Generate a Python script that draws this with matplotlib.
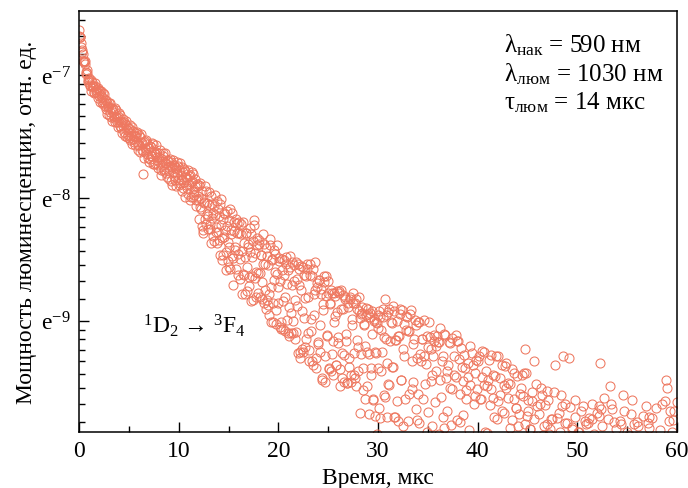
import numpy as np
import matplotlib
matplotlib.use('Agg')
import matplotlib.pyplot as plt
from matplotlib.ticker import FixedLocator, FixedFormatter

plt.rcParams['font.family'] = ['Liberation Serif', 'DejaVu Serif']
plt.rcParams['mathtext.fontset'] = 'custom'
plt.rcParams['mathtext.rm'] = 'Liberation Serif'
plt.rcParams['mathtext.it'] = 'Liberation Serif:italic'
plt.rcParams['mathtext.bf'] = 'Liberation Serif:bold'

# sampling step of the decay, us
t_step = 0.1
# luminescence power in units of e^-10, one row per us
# samples at t = 0.0, 0.1, ...
p_rel = [
    29.2, 27.5, 26.1, 24.3, 24.0, 22.4, 22.6, 20.7, 21.0, 19.4,   # 0
    19.3, 18.4, 19.4, 18.4, 18.5, 17.4, 18.5, 17.9, 17.4, 18.2,   # 1
    17.0, 17.7, 17.1, 16.2, 17.4, 16.2, 16.5, 15.3, 16.0, 15.5,   # 2
    16.0, 14.9, 14.3, 15.4, 14.9, 14.2, 15.4, 14.3, 13.8, 14.4,   # 3
    13.7, 14.5, 13.1, 13.8, 13.3, 13.8, 12.3, 13.4, 12.9, 12.4,   # 4
    13.1, 11.9, 12.6, 13.2, 12.0, 11.7, 12.3, 12.6, 11.7, 10.9,   # 5
    11.4, 12.2, 11.7, 10.9, 9.0, 11.7, 11.1, 11.9, 10.6, 11.1,    # 6
    11.1, 10.2, 11.25, 10.4, 11.5, 9.75, 10.6, 10.8, 10.1, 9.7,   # 7
    10.7, 9.85, 9.3, 10.2, 10.65, 9.4, 9.85, 9.1, 10.1, 9.55,     # 8
    9.2, 10.15, 8.5, 9.5, 9.15, 9.7, 8.55, 9.4, 9.9, 8.55,        # 9
    9.3, 8.35, 8.9, 9.55, 8.0, 8.45, 9.2, 8.25, 8.7, 7.65,        # 10
    8.3, 8.9, 7.45, 8.5, 9.0, 7.6, 8.15, 7.3, 8.3, 7.5,           # 11
    8.2, 6.85, 7.4, 5.9, 5.7, 7.1, 6.25, 7.85, 6.5, 5.75,         # 12
    6.99, 5.75, 7.51, 6.27, 5.42, 6.92, 6.46, 5.61, 7.24, 5.61,   # 13
    5.25, 7.02, 5.93, 4.45, 6.22, 5.39, 6.51, 4.77, 5.89, 4.41,   # 14
    6.18, 4.97, 4.14, 5.53, 6.52, 4.53, 5.65, 4.96, 4.13, 6.04,   # 15
    4.69, 5.56, 3.83, 6.0, 4.79, 3.98, 5.11, 3.38, 5.55, 4.21,    # 16
    5.07, 3.61, 4.75, 5.5, 3.91, 3.23, 6.2, 4.73, 4.05, 5.06,     # 17
    3.42, 5.08, 4.02, 4.64, 3.25, 4.33, 5.09, 3.5, 3.0, 4.62,     # 18
    4.29, 2.84, 5.03, 3.58, 4.47, 3.15, 3.78, 4.67, 2.65, 3.98,   # 19
    3.13, 4.42, 3.75, 2.7, 4.5, 2.54, 3.95, 3.29, 4.57, 2.74,     # 20
    4.1, 3.04, 4.59, 2.45, 3.65, 2.72, 4.27, 3.21, 2.48, 3.83,    # 21
    2.08, 3.63, 2.0, 4.25, 2.93, 2.1, 3.94, 3.28, 2.35, 4.15,     # 22
    3.31, 1.95, 3.94, 2.49, 1.96, 4.16, 2.84, 3.48, 1.85, 3.71,   # 23
    2.25, 3.8, 2.62, 3.38, 1.68, 2.97, 3.74, 2.04, 3.9, 2.4,      # 24
    3.4, 1.83, 3.12, 1.8, 3.4, 2.31, 2.69, 3.33, 1.9, 2.92,       # 25
    2.37, 3.45, 1.83, 2.99, 1.7, 3.36, 2.05, 3.25, 2.43, 1.64,    # 26
    3.04, 1.86, 3.3, 1.75, 2.62, 3.15, 2.09, 1.7, 3.24, 2.32,     # 27
    1.8, 2.95, 2.78, 2.07, 3.05, 1.55, 2.63, 2.22, 3.01, 1.59,    # 28
    2.88, 2.07, 2.9, 1.74, 2.43, 1.42, 2.75, 1.25, 2.08, 2.67,    # 29
    1.85, 2.94, 1.23, 2.51, 2.1, 2.79, 1.48, 3.24, 2.35, 1.24,    # 30
    2.92, 1.61, 2.3, 0.88, 2.67, 1.86, 2.95, 1.24, 2.32, 1.41,    # 31
    1.2, 2.39, 2.98, 1.67, 0.86, 2.15, 2.64, 1.43, 2.82, 0.61,    # 32
    2.5, 1.49, 2.88, 0.97, 1.96, 1.65, 2.34, 0.63, 2.62, 1.21,    # 33
    1.49, 2.68, 0.77, 1.96, 2.35, 1.04, 2.03, 1.62, 0.61, 2.4,    # 34
    2.19, 0.88, 2.37, 1.66, 1.15, 2.04, 2.3, 0.72, 1.81, 2.4,     # 35
    0.99, 2.28, 1.67, 0.56, 1.95, 1.24, 2.43, 0.82, 1.71, 1.3,    # 36
    1.89, 0.58, 2.27, 1.16, 1.56, 0.35, 2.04, 0.93, 1.72, 2.31,   # 37
    2.3, 0.99, 1.49, 0.58, 1.87, 1.26, 2.06, 0.35, 1.54, 0.83,    # 38
    1.92, 1.11, 1.61, 0.4, 2.09, 0.69, 1.38, 1.77, 0.27, 1.56,    # 39
    0.95, 2.04, 0.44, 1.43, 1.72, 0.72, 2.11, 1.1, 0.5, 1.59,     # 40
    1.68, 0.57, 1.37, 2.06, 0.25, 1.45, 0.94, 1.73, 0.73, 1.22,   # 41
    2.03, 0.52, 1.48, 0.8, 1.3, 0.39, 1.61, 1.88, 1.92, 0.66,     # 42
    1.45, 0.33, 1.62, 0.9, 1.21, 0.48, 1.78, 0.7, 1.33, 0.2,      # 43
    1.15, 0.42, 1.5, 0.1, 1.75, 0.8, 1.77, 2.16, 0.55, 1.25,      # 44
    0.6, 1.3, 0.15, 1.12, 0.5, 1.41, 0.9, 1.95, 0.3, 1.05,        # 45
    1.35, 0.4, 0.85, 1.38, 0.2, 1.48, 0.7, 1.15, 0.05, 0.95,      # 46
    1.53, 0.55, 1.08, 0.3, 1.22, 0.6, 0.1, 0.9, 1.89, 0.45,       # 47
    1.23, 0.35, 0.8, 1.1, 0.2, 1.35, 2.03, 0.6, 1.18, 0.4,        # 48
    0.65, 0.15, 2.01, 0.9, 0.5, 1.12, 0.25, 0.7, 1.42, 0.3,       # 49
    0.8, 1.1, 0.2, 0.55, 0.9, 0.1, 1.36, 0.45, 0.75, 1.17,        # 50
    0.35, 0.6, 1.23, 0.05, 0.9, 1.22, 0.5, 0.15, 0.7, 0.3,        # 51
    0.6, 0.2, 1.35, 1.93, 1.32, 0.4, 0.85, 0.1, 0.5, 0.95,        # 52
    0.3, 0.75, 0.55, 1.59, 1.38, 0.1, 0.85, 1.19, 0.4, 0.65,      # 53
    0.2, 0.7, 0.45, 0.9, 1.17, 0.05, 1.48, 0.35, 0.8, 0.6,        # 54
    0.5, 0.15, 0.95, 0.7, 0.3, 1.42, 0.85, 0.1, 0.6, 1.05,        # 55
    1.19, 0.4, 0.75, 0.2, 0.9, 0.55, 0.1, 0.65, 0.3, 1.36,        # 56
    0.45, 1.18, 1.24, 0.6, 0.15, 0.85, 0.35, 0.7, 0.25, 0.95,     # 57
    0.6, 0.3, 0.8, 0.1, 0.55, 1.38, 0.7, 0.4, 0.95, 1.67,         # 58
    1.57, 0.35, 0.75, 1.3, 0.2, 0.6, 1.21, 0.45, 0.85, 0.15,      # 59
]
# samples in between, at t = 0.05, 0.15, ...
p_rel_mid = [
    27.8, 27.5, 25.3, 24.8, 22.6, 22.6, 22.0, 20.4, 20.5, 19.0,   # 0
    19.7, 18.6, 17.7, 19.0, 18.4, 17.5, 18.9, 17.5, 18.0, 16.7,   # 1
    17.8, 16.2, 17.7, 16.9, 15.9, 17.3, 15.7, 16.5, 14.7, 15.6,   # 2
    14.6, 16.1, 15.3, 13.9, 15.3, 14.4, 13.8, 15.1, 14.3, 13.2,   # 3
    14.75, 13.3, 13.8, 12.6, 14.05, 12.65, 13.5, 13.9, 12.2, 13.05,  # 4
    12.05, 13.45, 12.25, 11.45, 12.75, 12.25, 11.35, 12.25, 12.65, 11.35,  # 5
    12.35, 10.75, 12.5, 11.6, 10.85, 10.25, 11.8, 10.8, 11.45, 10.25,  # 6
    9.95, 11.3, 10.4, 11.55, 9.75, 10.8, 9.85, 11.35, 10.35, 9.45,  # 7
    10.35, 10.9, 8.95, 9.7, 10.45, 9.2, 10.7, 9.85, 8.8, 10.0,    # 8
    8.65, 9.6, 9.95, 8.2, 10.1, 8.85, 9.5, 8.15, 9.1, 9.6,        # 9
    8.25, 9.8, 8.55, 7.8, 9.15, 9.4, 7.45, 8.8, 8.05, 9.3,        # 10
    8.85, 7.3, 8.4, 9.15, 7.45, 7.8, 8.6, 6.95, 8.15, 7.25,       # 11
    6.23, 8.37, 6.74, 7.84, 5.56, 7.18, 8.15, 6.0, 7.1, 6.38,     # 12
    7.74, 5.98, 5.13, 7.02, 6.56, 5.19, 7.6, 5.84, 5.12, 6.75,    # 13
    6.4, 4.66, 7.34, 5.34, 4.64, 6.54, 5.71, 4.1, 6.65, 5.17,     # 14
    4.21, 6.77, 5.68, 4.6, 3.64, 6.07, 4.85, 6.24, 5.54, 3.94,    # 15
    6.1, 4.5, 5.5, 3.38, 6.07, 3.96, 4.57, 5.57, 3.45, 4.97,      # 16
    3.89, 5.81, 3.18, 4.58, 5.2, 5.95, 3.84, 3.29, 5.34, 4.01,    # 17
    5.23, 3.3, 4.66, 3.72, 5.52, 3.15, 4.3, 4.92, 3.21, 3.1,      # 18
    3.37, 5.3, 2.68, 4.48, 2.7, 4.83, 4.03, 2.97, 5.03, 3.58,     # 19
    4.55, 2.59, 2.55, 4.12, 3.2, 4.45, 2.5, 4.32, 3.66, 2.45,     # 20
    2.4, 4.21, 2.89, 4.4, 2.45, 3.76, 2.35, 4.38, 3.06, 4.3,      # 21
    4.16, 2.1, 3.48, 2.16, 4.2, 2.78, 2.2, 3.92, 4.3, 2.46,       # 22
    2.14, 4.33, 2.76, 3.92, 1.9, 3.37, 4.4, 2.0, 3.59, 2.28,      # 23
    3.8, 2.11, 3.52, 1.7, 3.11, 3.9, 1.65, 3.33, 2.41, 3.75,      # 24
    1.85, 3.13, 3.5, 2.07, 1.75, 3.4, 2.82, 1.9, 3.45, 2.27,      # 25
    3.41, 1.6, 3.5, 2.08, 2.98, 1.65, 3.3, 2.3, 1.64, 3.15,       # 26
    2.0, 3.25, 1.65, 2.76, 3.4, 1.75, 3.13, 1.6, 3.0, 2.19,       # 27
    3.3, 1.28, 2.87, 2.9, 1.85, 2.64, 1.43, 2.85, 2.1, 3.0,       # 28
    1.27, 2.8, 1.85, 2.95, 1.43, 2.71, 2.1, 2.7, 1.08, 2.56,      # 29
    2.85, 1.33, 2.8, 1.81, 1.0, 2.98, 2.37, 1.46, 2.85, 1.93,     # 30
    1.62, 3.0, 0.89, 2.68, 1.87, 3.06, 1.24, 2.33, 1.02, 2.71,    # 31
    2.4, 0.89, 2.88, 1.67, 2.96, 1.15, 2.04, 0.73, 2.52, 2.81,    # 32
    1.2, 2.49, 0.88, 2.97, 1.56, 2.25, 0.64, 2.73, 1.32, 2.01,    # 33
    2.69, 1.18, 2.07, 0.76, 2.35, 1.44, 2.73, 0.82, 1.91, 1.1,    # 34
    1.29, 2.68, 0.87, 2.16, 1.75, 0.53, 2.41, 1.4, 2.21, 0.7,     # 35
    2.29, 1.08, 2.57, 1.46, 0.65, 2.04, 1.13, 2.42, 0.51, 1.8,    # 36
    0.89, 2.28, 1.57, 0.46, 2.36, 1.05, 1.74, 0.63, 2.42, 1.21,   # 37
    0.5, 1.99, 1.19, 2.18, 0.67, 1.66, 0.36, 1.85, 1.44, 0.83,    # 38
    1.72, 0.51, 2.21, 1.0, 0.69, 1.89, 0.28, 1.47, 1.97, 0.86,    # 39
    1.95, 0.64, 1.44, 0.23, 2.12, 0.92, 1.61, 0.4, 1.8, 1.09,     # 40
    0.48, 1.97, 0.97, 1.56, 0.25, 1.75, 1.24, 0.63, 2.03, 0.32,   # 41
    1.41, 0.2, 1.7, 0.69, 1.89, 0.38, 1.28, 0.87, 1.57, 0.06,     # 42
    1.63, 0.63, 1.13, 0.23, 1.83, 0.83, 1.43, 0.13, 1.33, 1.73,   # 43
    0.47, 1.27, 0.17, 1.57, 0.87, 1.47, 0.27, 1.17, 1.77, 0.67,   # 44
    1.42, 0.32, 1.12, 0.02, 1.52, 0.62, 1.22, 0.42, 1.62, 0.82,   # 45
    0.67, 1.27, 0.17, 1.57, 0.47, 1.07, 0.07, 1.37, 0.57, 1.17,   # 46
    1.42, 0.32, 1.12, 0.02, 1.22, 0.72, 1.52, 0.22, 0.92, 0.52,   # 47
    0.38, 1.28, 0.58, 1.48, 0.08, 0.98, 0.48, 1.38, 0.18, 1.18,   # 48
    1.04, 0.14, 1.34, 0.54, 1.14, 0.04, 0.84, 1.24, 0.34, 0.94,   # 49
    0.2, 1.1, 0.6, 1.3, 0.1, 1.0, 0.4, 1.2, 0.8, 0.3,             # 50
    1.18, 0.38, 0.88, 0.08, 1.38, 0.58, 1.08, 0.18, 0.78, 1.28,   # 51
    0.35, 1.25, 0.05, 0.75, 1.15, 0.45, 1.45, 0.25, 0.95, 0.15,   # 52
    1.22, 0.22, 0.72, 0.42, 1.32, 0.12, 0.92, 0.52, 1.12, 0.02,   # 53
    0.8, 0.3, 1.2, 0.1, 1.0, 0.5, 1.3, 0.2, 0.7, 1.1,             # 54
    0.17, 1.07, 0.37, 1.27, 0.07, 0.67, 1.17, 0.27, 0.87, 0.47,   # 55
    1.15, 0.35, 0.95, 0.05, 0.85, 1.25, 0.15, 0.65, 0.25, 1.05,   # 56
    0.33, 1.13, 0.03, 0.83, 1.23, 0.23, 1.03, 0.43, 1.33, 0.13,   # 57
    0.81, 0.11, 1.11, 0.31, 0.61, 0.01, 0.91, 1.41, 0.21, 1.01,   # 58
    0.4, 1.2, 0.1, 0.7, 1.1, 0.2, 1.3, 0.3, 0.9, 1.4,             # 59
]

y_major = [-9, -8, -7]
y_major_labels = ['e$^{-9}$', 'e$^{-8}$', 'e$^{-7}$']
x_major = [0, 10, 20, 30, 40, 50, 60]
x_minor = [5, 15, 25, 35, 45, 55]

note_lines = ['λ$_{\\mathrm{нак}}$ = 590 нм',
              'λ$_{\\mathrm{люм}}$ = 1030 нм',
              'τ$_{\\mathrm{люм}}$ = 14 мкс']
transition = '$^{1}$D$_{2}$ → $^{3}$F$_{4}$'

col = '#EE7860'

t = np.arange(len(p_rel))*t_step
t_mid = t + t_step/2
unit = np.exp(-10.0)

fig = plt.figure(figsize=(6.88, 4.89), dpi=100)
ax = fig.add_axes([79/688, 56/489, 598/688, 421/489])

for tt, pp in [(t, p_rel), (t_mid, p_rel_mid)]:
    ax.plot(tt, np.array(pp)*unit, 'o', mfc='none', mec=col, ms=6.5, mew=0.75)

ax.set_yscale('log', base=np.e)
ax.set_xlim(0, 60)
ax.set_ylim(np.exp(-9.908), np.exp(-6.474))

# linear minor ticks between the e-powers, 8 per interval (like Origin)
minor = []
for k in range(-11, -5):
    lo, hi = np.exp(k), np.exp(k+1)
    for j in range(1, 9):
        minor.append(lo + j*(hi-lo)/9.0)
ax.yaxis.set_major_locator(FixedLocator(np.exp(y_major)))
ax.yaxis.set_major_formatter(FixedFormatter(y_major_labels))
ax.yaxis.set_minor_locator(FixedLocator(minor))
ax.yaxis.set_minor_formatter(FixedFormatter([''] * len(minor)))
ax.xaxis.set_major_locator(FixedLocator(x_major))
ax.xaxis.set_minor_locator(FixedLocator(x_minor))

ax.tick_params(which='both', direction='in', top=False, right=False,
               labelsize=17, width=1.0)
ax.tick_params(which='major', length=7, pad=6)
ax.tick_params(which='minor', length=4.5)
for s in ax.spines.values():
    s.set_linewidth(1.1)

ax.set_xlabel('Время, мкс', fontsize=17, labelpad=4)
ax.set_ylabel('Мощность люминесценции, отн. ед.', fontsize=17, labelpad=3)

for i, line in enumerate(note_lines):
    ax.text(0.711, 0.921 - i*0.068, line, transform=ax.transAxes,
            fontsize=18, va='center', ha='left')
ax.text(6.4, np.exp(-9.03), transition, fontsize=17, va='center', ha='left')

plt.savefig('out.png', dpi=100)
